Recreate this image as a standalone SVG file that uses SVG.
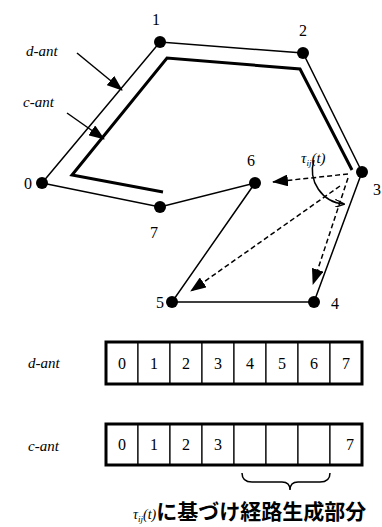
<svg xmlns="http://www.w3.org/2000/svg" width="382" height="527" viewBox="0 0 382 527">
<style>
.thin{fill:none;stroke:#000;stroke-width:1.5}
.thick{fill:none;stroke:#000;stroke-width:3}
.dash{fill:none;stroke:#000;stroke-width:1.5;stroke-dasharray:5 3}
.dot{fill:#000}
.num{font-family:'Liberation Serif','DejaVu Serif',serif;font-size:16px;fill:#000;text-anchor:middle}
.lab{font-family:'Liberation Serif','DejaVu Serif',serif;font-size:15px;font-style:italic;fill:#000}
.cell{fill:#fff;stroke:#000;stroke-width:1.2}
.box{fill:none;stroke:#000;stroke-width:3}
.jp{font-family:'Noto Sans CJK JP',sans-serif;font-size:21px;font-weight:bold;fill:#000}
</style>
<defs>
<marker id="ah" markerUnits="userSpaceOnUse" markerWidth="16" markerHeight="12" refX="15" refY="6" orient="auto">
<path d="M0,0 L16,6 L0,12 Z" fill="#000"/>
</marker>
<marker id="ahs" markerUnits="userSpaceOnUse" markerWidth="10" markerHeight="8" refX="9" refY="4" orient="auto">
<path d="M0,0 L10,4 L0,8" fill="none" stroke="#000" stroke-width="1.2"/>
</marker>
</defs>
<g id="connectors">
<polyline class="thin" points="42,183 160,42 303,53 362,172 314,302 172,302 255,183 160,207 42,183"/>
<polyline class="thick" points="163,192 72,175 167,58 300,69 352,170"/>
<line class="dash" x1="348" y1="174" x2="273" y2="182" marker-end="url(#ah)"/>
<line class="dash" x1="340" y1="186" x2="191" y2="291" marker-end="url(#ah)"/>
<line class="dash" x1="348" y1="178" x2="313" y2="284" marker-end="url(#ah)"/>
<path class="thin" d="M314,160 A34,34 0 0 0 344,204" marker-end="url(#ahs)"/>
<line class="thin" x1="77" y1="53" x2="122" y2="90" marker-end="url(#ah)"/>
<line class="thin" x1="67" y1="113" x2="104" y2="139" marker-end="url(#ah)"/>
</g>
<g id="node0"><circle class="dot" cx="42" cy="183" r="6"/><text class="num" x="28" y="189">0</text></g>
<g id="node1"><circle class="dot" cx="160" cy="42" r="6"/><text class="num" x="156" y="25">1</text></g>
<g id="node2"><circle class="dot" cx="303" cy="53" r="6"/><text class="num" x="303" y="36">2</text></g>
<g id="node3"><circle class="dot" cx="362" cy="172" r="6"/><text class="num" x="377" y="195">3</text></g>
<g id="node4"><circle class="dot" cx="314" cy="302" r="6"/><text class="num" x="335" y="309">4</text></g>
<g id="node5"><circle class="dot" cx="172" cy="302" r="6"/><text class="num" x="160" y="308">5</text></g>
<g id="node6"><circle class="dot" cx="255" cy="183" r="6"/><text class="num" x="251" y="166">6</text></g>
<g id="node7"><circle class="dot" cx="160" cy="207" r="6"/><text class="num" x="154" y="238">7</text></g>
<g id="labels">
<text class="lab" x="26" y="56">d-ant</text>
<text class="lab" x="23" y="107">c-ant</text>
<text class="lab" x="301" y="163" font-size="14">τ<tspan font-size="9" dy="3">ij</tspan><tspan dy="-3">(t)</tspan></text>
</g>
<g id="d-ant-row">
<text class="lab" x="28" y="368">d-ant</text>
<rect class="cell" x="106" y="342" width="32" height="42"/><text class="num" x="122" y="369">0</text>
<rect class="cell" x="138" y="342" width="32" height="42"/><text class="num" x="154" y="369">1</text>
<rect class="cell" x="170" y="342" width="32" height="42"/><text class="num" x="186" y="369">2</text>
<rect class="cell" x="202" y="342" width="32" height="42"/><text class="num" x="218" y="369">3</text>
<rect class="cell" x="234" y="342" width="32" height="42"/><text class="num" x="250" y="369">4</text>
<rect class="cell" x="266" y="342" width="32" height="42"/><text class="num" x="282" y="369">5</text>
<rect class="cell" x="298" y="342" width="32" height="42"/><text class="num" x="314" y="369">6</text>
<rect class="cell" x="330" y="342" width="32" height="42"/><text class="num" x="346" y="369">7</text>
<rect class="box" x="106" y="342" width="256" height="42"/>
</g>
<g id="c-ant-row">
<text class="lab" x="28" y="451">c-ant</text>
<rect class="cell" x="106" y="424" width="32" height="41"/><text class="num" x="122" y="450">0</text>
<rect class="cell" x="138" y="424" width="32" height="41"/><text class="num" x="154" y="450">1</text>
<rect class="cell" x="170" y="424" width="32" height="41"/><text class="num" x="186" y="450">2</text>
<rect class="cell" x="202" y="424" width="32" height="41"/><text class="num" x="218" y="450">3</text>
<rect class="cell" x="234" y="424" width="32" height="41"/>
<rect class="cell" x="266" y="424" width="32" height="41"/>
<rect class="cell" x="298" y="424" width="32" height="41"/>
<rect class="cell" x="330" y="424" width="32" height="41"/><text class="num" x="350" y="450">7</text>
<rect class="box" x="106" y="424" width="256" height="41"/>
</g>
<g id="brace">
<path class="thin" d="M242,473 Q242,482 252,482 L282,482 Q290,482 290,490 Q290,482 298,482 L320,482 Q330,482 330,473"/>
</g>
<g id="caption">
<text x="133" y="519"><tspan font-family="'Liberation Serif','DejaVu Serif',serif" font-style="italic" font-size="14">τ<tspan font-size="9" dy="3">ij</tspan><tspan dy="-3">(t)</tspan></tspan><tspan class="jp">に基づけ経路生成部分</tspan></text>
</g>
</svg>
